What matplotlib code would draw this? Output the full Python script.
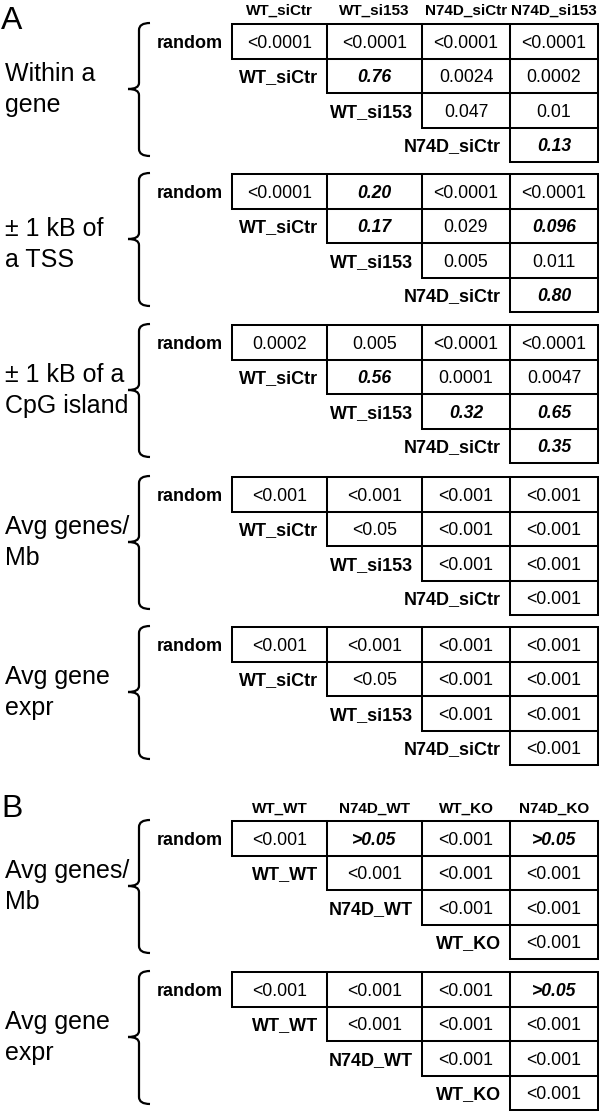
import matplotlib
matplotlib.use("Agg")
import matplotlib.pyplot as plt
from matplotlib.path import Path
from matplotlib.patches import PathPatch, Rectangle

# ---------------- data ----------------
cols_A = ["WT_siCtr", "WT_si153", "N74D_siCtr", "N74D_si153"]
rows_A = ["random", "WT_siCtr", "WT_si153", "N74D_siCtr"]
cols_B = ["WT_WT", "N74D_WT", "WT_KO", "N74D_KO"]
rows_B = ["random", "WT_WT", "N74D_WT", "WT_KO"]

sections_A = ["Within a\ngene", "\u00b1 1 kB of\na TSS", "\u00b1 1 kB of a\nCpG island",
              "Avg genes/\nMb", "Avg gene\nexpr"]
sections_B = ["Avg genes/\nMb", "Avg gene\nexpr"]

within_gene = [["<0.0001", "<0.0001", "<0.0001", "<0.0001"],
               ["0.76", "0.0024", "0.0002"],
               ["0.047", "0.01"],
               ["0.13"]]
tss = [["<0.0001", "0.20", "<0.0001", "<0.0001"],
       ["0.17", "0.029", "0.096"],
       ["0.005", "0.011"],
       ["0.80"]]
cpg = [["0.0002", "0.005", "<0.0001", "<0.0001"],
       ["0.56", "0.0001", "0.0047"],
       ["0.32", "0.65"],
       ["0.35"]]
genes_mb_A = [["<0.001", "<0.001", "<0.001", "<0.001"],
              ["<0.05", "<0.001", "<0.001"],
              ["<0.001", "<0.001"],
              ["<0.001"]]
gene_expr_A = [["<0.001", "<0.001", "<0.001", "<0.001"],
               ["<0.05", "<0.001", "<0.001"],
               ["<0.001", "<0.001"],
               ["<0.001"]]
genes_mb_B = [["<0.001", ">0.05", "<0.001", ">0.05"],
              ["<0.001", "<0.001", "<0.001"],
              ["<0.001", "<0.001"],
              ["<0.001"]]
gene_expr_B = [["<0.001", "<0.001", "<0.001", ">0.05"],
               ["<0.001", "<0.001", "<0.001"],
               ["<0.001", "<0.001"],
               ["<0.001"]]

tables_A = [within_gene, tss, cpg, genes_mb_A, gene_expr_A]
tables_B = [genes_mb_B, gene_expr_B]

# ---------------- layout ----------------
FONT = "Liberation Sans"
HEAD_SIZE = 11

col_edges = [232, 327, 422, 510, 598]
row_h = 34.5
LW = 1.45

fig = plt.figure(figsize=(6.0, 11.12), dpi=100)
ax = fig.add_axes([0, 0, 1, 1])
ax.set_xlim(0, 600)
ax.set_ylim(1112, 0)
ax.axis("off")


def is_ns(v):
    if v.startswith(">"):
        return True
    if v.startswith("<"):
        return False
    return float(v) > 0.05


def brace(top):
    xv, xr, xl = 139, 150, 128
    bot = top + 133
    tip = top + 66
    verts = [(xr, top), (xv, top), (xv, top + 7),
             (xv, tip - 6), (xv, tip), (xl, tip),
             (xl, tip), (xv, tip), (xv, tip + 6),
             (xv, bot - 7), (xv, bot), (xr, bot)]
    codes = [Path.MOVETO, Path.CURVE3, Path.CURVE3,
             Path.LINETO, Path.CURVE3, Path.CURVE3,
             Path.MOVETO, Path.CURVE3, Path.CURVE3,
             Path.LINETO, Path.CURVE3, Path.CURVE3]
    ax.add_patch(PathPatch(Path(verts, codes), fill=False, lw=1.6,
                           edgecolor="black", capstyle="butt", joinstyle="round"))
    return tip


def draw_table(top, values, row_labels, label, label_shift=0):
    for i, row in enumerate(values):
        y0 = top + i * row_h
        yc = y0 + row_h / 2
        for k, v in enumerate(row):
            j = i + k
            x0, x1 = col_edges[j], col_edges[j + 1]
            ax.add_patch(Rectangle((x0, y0), x1 - x0, row_h, fill=False,
                                   lw=LW, edgecolor="black"))
            ns = is_ns(v)
            ax.text((x0 + x1) / 2, yc + 6.5, v, ha="center", va="baseline",
                    fontsize=12.7, family=FONT,
                    fontweight="bold" if ns else "normal",
                    fontstyle="italic" if ns else "normal")
        ax.text(col_edges[i] - 9, yc + 6.5, row_labels[i], ha="right", va="baseline",
                fontsize=13, family=FONT, fontweight="bold")
    tip = brace(top - 1)
    l1, l2 = label.split("\n")
    ax.text(5, tip - 8 + label_shift, l1, ha="left", va="baseline", fontsize=18, family=FONT)
    ax.text(5, tip + 23 + label_shift, l2, ha="left", va="baseline", fontsize=18, family=FONT)


def draw_header(y, cols):
    for j, c in enumerate(cols):
        ax.text((col_edges[j] + col_edges[j + 1]) / 2, y, c, ha="center", va="baseline",
                fontsize=HEAD_SIZE, family=FONT, fontweight="bold")


tops_A = [24, 174, 325, 477, 627]
tops_B = [821, 972]
shifts_A = [0, 5, 0, 0, 0]

ax.text(1, 29, "A", fontsize=23, family=FONT, ha="left", va="baseline")
draw_header(15, cols_A)
for t, vals, lab, s in zip(tops_A, tables_A, sections_A, shifts_A):
    draw_table(t, vals, rows_A, lab, s)

ax.text(1, 817, "B", fontsize=23, family=FONT, ha="left", va="baseline")
draw_header(813, cols_B)
for t, vals, lab in zip(tops_B, tables_B, sections_B):
    draw_table(t, vals, rows_B, lab)

fig.savefig("out.png", dpi=100, facecolor="white")
